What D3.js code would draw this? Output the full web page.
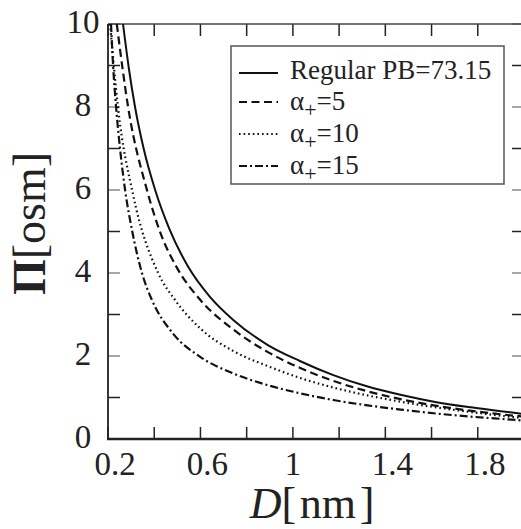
<!DOCTYPE html>
<html>
<head>
<meta charset="utf-8">
<script src="https://cdn.jsdelivr.net/npm/d3@7"></script>
<style>
    body { margin: 0; background: #fff; }
    svg { display: block; }
</style>
</head>
<body>
<div id="chart"></div>
<script>
(function () {
    "use strict";

    // values: D [nm] and Pi [osm] for each curve
    var dRegular = [0.265, 0.29, 0.317, 0.355, 0.404, 0.465, 0.547, 0.642, 0.742, 0.89, 1.03, 1.175, 1.32, 1.47, 1.61, 1.76, 1.9, 2.0];
    var piRegular = [10, 8.94, 8, 6.98, 6, 5.07, 4.15, 3.42, 2.87, 2.27, 1.88, 1.54, 1.27, 1.06, 0.9, 0.77, 0.67, 0.6];

    var dAlpha5 = [0.238, 0.287, 0.369, 0.43, 0.498, 0.598, 0.742, 0.89, 1.032, 1.175, 1.323, 1.466, 1.609, 1.756, 1.9, 2.0];
    var piAlpha5 = [10, 8, 5.99, 4.92, 4.13, 3.36, 2.64, 2.1, 1.71, 1.4, 1.15, 0.96, 0.81, 0.69, 0.595, 0.54];

    var dAlpha10 = [0.209, 0.243, 0.308, 0.417, 0.49, 0.6, 0.742, 0.89, 1.032, 1.175, 1.323, 1.466, 1.609, 1.756, 1.9, 2.0];
    var piAlpha10 = [10, 8, 5.9, 4, 3.35, 2.66, 2.12, 1.76, 1.47, 1.24, 1.05, 0.9, 0.77, 0.66, 0.56, 0.5];

    var dAlpha15 = [0.213, 0.222, 0.235, 0.252, 0.274, 0.305, 0.347, 0.39, 0.48, 0.599, 0.742, 0.89, 1.032, 1.175, 1.323, 1.466, 1.609, 1.756, 1.9, 2.0];
    var piAlpha15 = [10, 9, 8, 7, 6, 5, 4, 3.35, 2.55, 1.98, 1.58, 1.3, 1.1, 0.94, 0.81, 0.71, 0.62, 0.545, 0.485, 0.445];

    var xTickLabels = [0.2, 0.6, 1, 1.4, 1.8];
    var xMinorTicks = [0.2, 0.4, 0.6, 0.8, 1, 1.2, 1.4, 1.6, 1.8, 2.0];
    var yTickLabels = [0, 2, 4, 6, 8, 10];
    var yMinorTicks = [1, 3, 5, 7, 9];

    var legendLabels = ["Regular PB=73.15", "5", "10", "15"];
    var dashes = [null, "8,4.5", "1.6,3", "8,3,2,3"];

    var serif = "'Liberation Serif', 'Times New Roman', Times, serif";

    var w = 521;
    var h = 529;
    var left = 108, right = 524, top = 24, bottom = 439;

    var x = d3.scaleLinear().domain([0.2, 2.0]).range([left, right]);
    var y = d3.scaleLinear().domain([0, 10]).range([bottom, top]);

    var svg = d3.select("#chart")
        .append("svg")
        .attr("width", w)
        .attr("height", h)
        .style("font-family", serif);

    svg.append("defs").append("clipPath")
        .attr("id", "plotclip")
        .append("rect")
        .attr("x", left)
        .attr("y", top)
        .attr("width", right - left)
        .attr("height", bottom - top);

    //ticks, all pointing inwards
    var tickLen = 12;
    var tickG = svg.append("g");

    tickG.selectAll("line.xb")
        .data(xMinorTicks)
        .enter()
        .append("line")
        .attr("x1", function (d) { return x(d); })
        .attr("x2", function (d) { return x(d); })
        .attr("y1", bottom)
        .attr("y2", bottom - tickLen)
        .attr("stroke", "#222")
        .attr("stroke-width", 1.5);

    tickG.selectAll("line.xt")
        .data(xMinorTicks)
        .enter()
        .append("line")
        .attr("x1", function (d) { return x(d); })
        .attr("x2", function (d) { return x(d); })
        .attr("y1", top)
        .attr("y2", top + tickLen)
        .attr("stroke", "#222")
        .attr("stroke-width", 1.5);

    // labelled y ticks come out grey in the picture, the others black
    var yAll = yTickLabels.map(function (d) { return { v: d, major: true }; })
        .concat(yMinorTicks.map(function (d) { return { v: d, major: false }; }));

    tickG.selectAll("line.yl")
        .data(yAll)
        .enter()
        .append("line")
        .attr("x1", left)
        .attr("x2", left + tickLen)
        .attr("y1", function (d) { return y(d.v); })
        .attr("y2", function (d) { return y(d.v); })
        .attr("stroke", function (d) { return d.major ? "#888" : "#222"; })
        .attr("stroke-width", 1.5);

    tickG.selectAll("line.yr")
        .data(yAll)
        .enter()
        .append("line")
        .attr("x1", right)
        .attr("x2", right - tickLen)
        .attr("y1", function (d) { return y(d.v); })
        .attr("y2", function (d) { return y(d.v); })
        .attr("stroke", function (d) { return d.major ? "#888" : "#222"; })
        .attr("stroke-width", 1.5);

    //frame
    svg.append("line").attr("x1", left).attr("x2", right).attr("y1", top).attr("y2", top)
        .attr("stroke", "#444").attr("stroke-width", 1.5);
    svg.append("line").attr("x1", right).attr("x2", right).attr("y1", top).attr("y2", bottom)
        .attr("stroke", "#444").attr("stroke-width", 1.5);
    svg.append("line").attr("x1", left).attr("x2", left).attr("y1", top).attr("y2", bottom + 1)
        .attr("stroke", "#222").attr("stroke-width", 1.8);
    svg.append("line").attr("x1", left - 1).attr("x2", right).attr("y1", bottom).attr("y2", bottom)
        .attr("stroke", "#222").attr("stroke-width", 2.5);

    //tick labels (the decimal ones sit a bit right of their tick in the original)
    svg.selectAll("text.xl")
        .data(xTickLabels)
        .enter()
        .append("text")
        .attr("x", function (d) { return x(d) + (d % 1 == 0 ? 0 : 7); })
        .attr("y", bottom + 36)
        .attr("text-anchor", "middle")
        .style("font-size", "33px")
        .attr("fill", "#222")
        .text(function (d) { return d; });

    svg.selectAll("text.yl")
        .data(yTickLabels)
        .enter()
        .append("text")
        .attr("x", 83)
        .attr("y", function (d) { return y(d) + 9; })
        .attr("text-anchor", "middle")
        .style("font-size", "33px")
        .attr("fill", "#222")
        .text(function (d) { return d; });

    //axis titles
    var xTitle = svg.append("text")
        .attr("x", (left + right) / 2 - 4)
        .attr("y", 518)
        .attr("text-anchor", "middle")
        .style("font-size", "44px")
        .attr("fill", "#222");
    xTitle.append("tspan").style("font-style", "italic").text("D");
    xTitle.append("tspan").text("[\u200Anm\u200A]");

    var yTitle = svg.append("text")
        .attr("transform", "translate(45," + ((top + bottom) / 2 - 8) + ") rotate(-90)")
        .attr("text-anchor", "middle")
        .style("font-size", "46px")
        .attr("fill", "#222");
    yTitle.append("tspan").style("font-weight", "bold").text("\u03A0");
    yTitle.append("tspan").text("[osm]");

    //curves
    var series = [
        { d: dRegular, p: piRegular },
        { d: dAlpha5, p: piAlpha5 },
        { d: dAlpha10, p: piAlpha10 },
        { d: dAlpha15, p: piAlpha15 }
    ];

    var line = d3.line()
        .x(function (pt) { return x(pt[0]); })
        .y(function (pt) { return y(pt[1]); })
        .curve(d3.curveMonotoneX);

    svg.append("g")
        .attr("clip-path", "url(#plotclip)")
        .selectAll("path")
        .data(series)
        .enter()
        .append("path")
        .attr("d", function (s) { return line(d3.zip(s.d, s.p)); })
        .attr("fill", "none")
        .attr("stroke", "#111")
        .attr("stroke-width", function (s, i) { return i == 0 ? 2 : 2.2; })
        .attr("stroke-dasharray", function (s, i) { return dashes[i]; });

    //legend
    var legend = svg.append("g");
    legend.append("rect")
        .attr("x", 231)
        .attr("y", 46)
        .attr("width", 273)
        .attr("height", 138)
        .attr("fill", "#fff")
        .attr("stroke", "#555")
        .attr("stroke-width", 1.5);

    var rowY = [73, 102, 134, 166];
    var rows = legend.selectAll("g.row")
        .data(legendLabels)
        .enter()
        .append("g");

    rows.append("line")
        .attr("x1", 239)
        .attr("x2", 278)
        .attr("y1", function (d, i) { return rowY[i]; })
        .attr("y2", function (d, i) { return rowY[i]; })
        .attr("stroke", "#111")
        .attr("stroke-width", 2)
        .attr("stroke-dasharray", function (d, i) { return dashes[i]; });

    rows.each(function (d, i) {
        var t = d3.select(this).append("text")
            .attr("x", 290)
            .attr("y", rowY[i] + (i == 0 ? 6 : 8))
            .style("font-size", "27px")
            .attr("fill", "#222");
        if (i == 0) {
            t.text(d);
        } else {
            t.append("tspan").text("\u03B1");
            t.append("tspan").attr("dy", 7).style("font-size", "22px").text("+");
            t.append("tspan").attr("dy", -7).text("=" + d);
        }
    });
})();
</script>
</body>
</html>
